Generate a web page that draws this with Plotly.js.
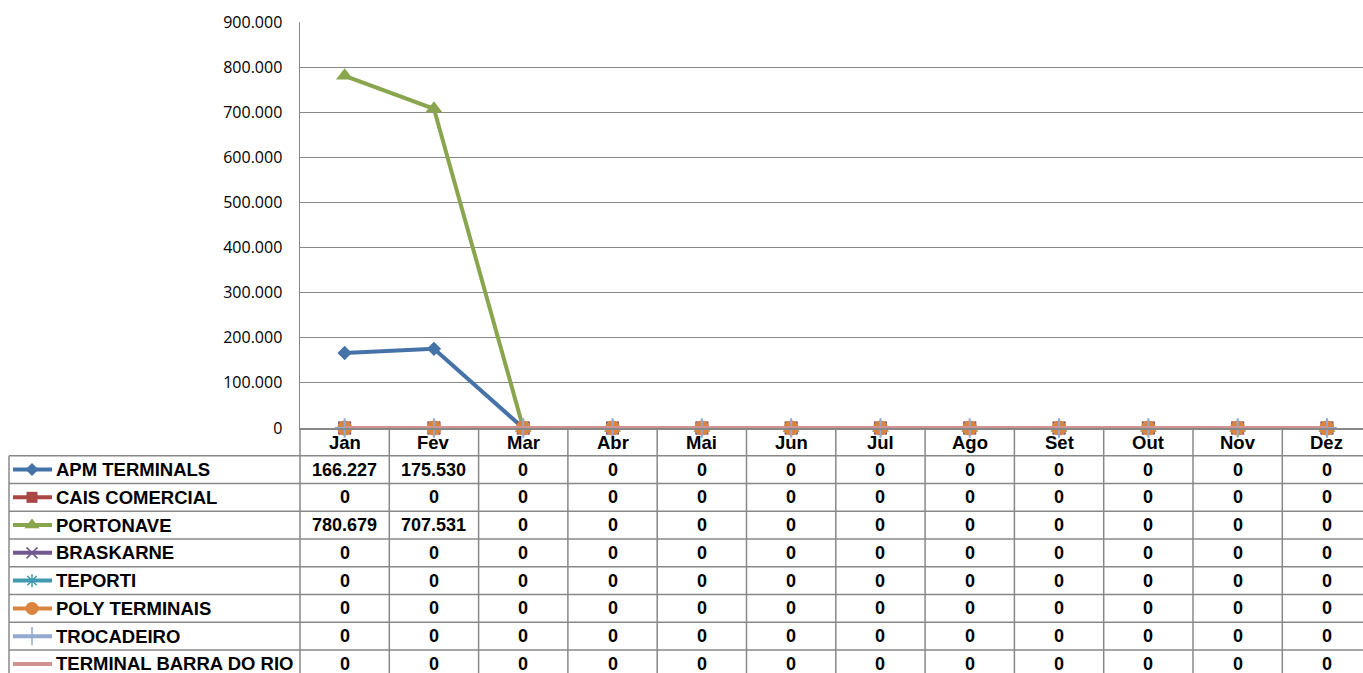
<!DOCTYPE html>
<html>
<head>
<meta charset="utf-8">
<script src="https://cdn.plot.ly/plotly-3.0.1.min.js"></script>
<style>html,body{margin:0;padding:0;background:#fff;}#chart{width:1363px;height:673px;}</style>
</head>
<body>
<div id="chart"></div>
<script>
// ---- Data ----
const months = ['Jan','Fev','Mar','Abr','Mai','Jun','Jul','Ago','Set','Out','Nov','Dez'];
const seriesNames = ['APM TERMINALS','CAIS COMERCIAL','PORTONAVE','BRASKARNE','TEPORTI','POLY TERMINAIS','TROCADEIRO','TERMINAL BARRA DO RIO'];
const apmTerminals   = [166227,175530,0,0,0,0,0,0,0,0,0,0];
const caisComercial  = [0,0,0,0,0,0,0,0,0,0,0,0];
const portonave      = [780679,707531,0,0,0,0,0,0,0,0,0,0];
const braskarne      = [0,0,0,0,0,0,0,0,0,0,0,0];
const teporti        = [0,0,0,0,0,0,0,0,0,0,0,0];
const polyTerminais  = [0,0,0,0,0,0,0,0,0,0,0,0];
const trocadeiro     = [0,0,0,0,0,0,0,0,0,0,0,0];
const barraDoRio     = [0,0,0,0,0,0,0,0,0,0,0,0];
const yTickVals = [0,100000,200000,300000,400000,500000,600000,700000,800000,900000];

const seriesValues = [apmTerminals,caisComercial,portonave,braskarne,teporti,polyTerminais,trocadeiro,barraDoRio];

// ---- Styles ----
const colors = ['#4572A7','#AA4643','#89A54E','#71588F','#4198AF','#DB843D','#93A9CF','#D19392'];
const symbols = ['diamond','square','triangle-up','x-thin-open','asterisk-open','circle','cross-thin-open','circle'];
const sizes = [11,13,15,12,12,15,14,0];
const legendSizes = [10,11,13,11,11,13,13,0];

const W = 1363, H = 673;
const plotLeft = 300, plotTop = 22, plotBottom = 428;
const colW = 89.3;
const headerBottom = 455.7, rowH = 27.76;
const gridColor = '#888888';

function fmt(v){
  return String(Math.round(v)).replace(/\B(?=(\d{3})+(?!\d))/g,'.');
}

const traces = [];
seriesValues.forEach((vals,i)=>{
  const open = symbols[i].indexOf('open')>=0;
  traces.push({
    type:'scatter', mode: sizes[i]>0 ? 'lines+markers' : 'lines',
    x: months, y: vals, name: seriesNames[i],
    xaxis:'x', yaxis:'y', cliponaxis:false,
    line:{color:colors[i], width:4},
    marker:{symbol:symbols[i], size:sizes[i], color:colors[i],
      line:{color:colors[i], width: open?2:0}},
    hoverinfo:'skip', showlegend:false
  });
});

// legend keys in the data table (pixel overlay axes)
seriesNames.forEach((n,i)=>{
  const yc = headerBottom + rowH*(i+0.5);
  const open = symbols[i].indexOf('open')>=0;
  traces.push({
    type:'scatter', mode:'lines', x:[13,52], y:[yc,yc], xaxis:'x2', yaxis:'y2',
    line:{color:colors[i], width:4}, hoverinfo:'skip', showlegend:false
  });
  if (legendSizes[i]>0) traces.push({
    type:'scatter', mode:'markers', x:[32], y:[yc], xaxis:'x2', yaxis:'y2',
    marker:{symbol:symbols[i], size:legendSizes[i], color:colors[i], line:{color:colors[i], width: open?1.5:0}},
    hoverinfo:'skip', showlegend:false
  });
});

const shapes = [];
const annotations = [];
const tableBottom = headerBottom + rowH*seriesNames.length;
// vertical column lines
for (let k=0;k<=months.length;k++){
  const x = plotLeft + colW*k;
  shapes.push({type:'line', xref:'x2', yref:'y2', x0:x, x1:x, y0:plotBottom, y1:tableBottom, line:{color:gridColor, width:1.5}, layer:'below'});
}
// legend column left border
shapes.push({type:'line', xref:'x2', yref:'y2', x0:9, x1:9, y0:headerBottom, y1:tableBottom, line:{color:gridColor, width:1.5}});
// horizontal row lines
for (let r=0;r<=seriesNames.length;r++){
  const y = headerBottom + rowH*r;
  shapes.push({type:'line', xref:'x2', yref:'y2', x0:9, x1:plotLeft+colW*12, y0:y, y1:y, line:{color:gridColor, width:1.5}});
}
const tFont = {family:'Liberation Sans, Arial, sans-serif', size:18, color:'#000'};
const nFont = {family:'Liberation Sans, Arial, sans-serif', size:18.5, color:'#000'};
months.forEach((m,j)=>{
  annotations.push({xref:'x2', yref:'y2', x: plotLeft+colW*(j+0.5), y: 442, text:'<b>'+m+'</b>', showarrow:false, xanchor:'center', yanchor:'middle', font:nFont});
});
seriesNames.forEach((n,i)=>{
  const yc = headerBottom + rowH*(i+0.5);
  annotations.push({xref:'x2', yref:'y2', x:54, y:yc, text:'<b>'+n+'</b>', showarrow:false, xanchor:'left', yanchor:'middle', font:nFont});
  seriesValues[i].forEach((v,j)=>{
    annotations.push({xref:'x2', yref:'y2', x: plotLeft+colW*(j+0.5), y: yc, text:'<b>'+fmt(v)+'</b>', showarrow:false, xanchor:'center', yanchor:'middle', font:tFont});
  });
});

const xMax = (W - plotLeft)/colW - 0.5;

const layout = {
  width:W, height:H,
  margin:{l:0, r:0, t:0, b:0},
  paper_bgcolor:'#fff', plot_bgcolor:'rgba(0,0,0,0)',
  separators:',.',
  showlegend:false,
  xaxis:{domain:[plotLeft/W, 1], type:'category', range:[-0.5, xMax], showticklabels:false,
    showgrid:false, zeroline:false, showline:true, linecolor:gridColor, linewidth:1.5, ticks:'', anchor:'y', fixedrange:true},
  yaxis:{domain:[(H-plotBottom)/H, (H-plotTop)/H], range:[0,900000], tickvals:yTickVals, tickformat:',d',
    showgrid:true, gridcolor:gridColor, gridwidth:1, zeroline:false, showline:true, linecolor:gridColor, linewidth:1.5,
    ticks:'', ticklabelstandoff:13, tickfont:{family:'Open Sans, sans-serif', size:16, color:'#000'}, anchor:'x', fixedrange:true},
  xaxis2:{domain:[0,1], range:[0,W], visible:false, anchor:'y2', fixedrange:true},
  yaxis2:{domain:[0,1], range:[H,0], visible:false, anchor:'x2', fixedrange:true},
  shapes:shapes, annotations:annotations
};

Plotly.newPlot('chart', traces, layout, {staticPlot:true, displayModeBar:false});
</script>
</body>
</html>
